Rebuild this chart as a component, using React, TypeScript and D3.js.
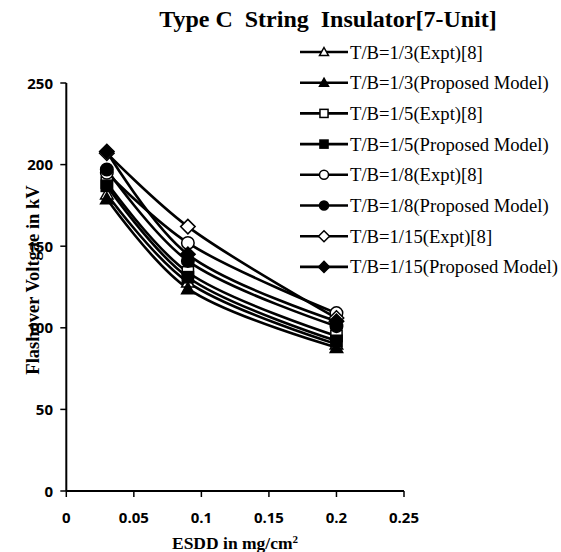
import React from "react";
import * as d3 from "d3";

const esdd = [0.03, 0.09, 0.2];
const seriesNames = [
  "T/B=1/3(Expt)[8]",
  "T/B=1/3(Proposed Model)",
  "T/B=1/5(Expt)[8]",
  "T/B=1/5(Proposed Model)",
  "T/B=1/8(Expt)[8]",
  "T/B=1/8(Proposed Model)",
  "T/B=1/15(Expt)[8]",
  "T/B=1/15(Proposed Model)",
];
const tb3Expt = [182, 128, 90];
const tb3Model = [179, 124, 88];
const tb5Expt = [189, 134, 95];
const tb5Model = [187, 131, 92];
const tb8Expt = [195, 152, 109];
const tb8Model = [197, 141, 101];
const tb15Expt = [207, 162, 106];
const tb15Model = [208, 145, 104];
const seriesValues = [tb3Expt, tb3Model, tb5Expt, tb5Model, tb8Expt, tb8Model, tb15Expt, tb15Model];
const markerShapes = ["triangle", "triangle", "square", "square", "circle", "circle", "diamond", "diamond"];
const markerFilled = [false, true, false, true, false, true, false, true];
const xTicks = [0, 0.05, 0.1, 0.15, 0.2, 0.25];
const xTickLabels = ["0", "0.05", "0.1", "0.15", "0.2", "0.25"];
const yTicks = [0, 50, 100, 150, 200, 250];

const W = 561;
const H = 552;
const x = d3.scaleLinear().domain([0, 0.25]).range([66.3, 404]);
const y = d3.scaleLinear().domain([0, 250]).range([491, 83]);

const SERIF = "'Liberation Serif', 'Times New Roman', serif";
const SANS = "'Open Sans', 'Liberation Sans', sans-serif";

function Marker({ shape, filled, cx, cy, size }: any) {
  const fill = filled ? "#000" : "#fff";
  const sw = 1.5;
  if (shape === "circle") {
    return <circle cx={cx} cy={cy} r={size / 2} fill={fill} stroke="#000" strokeWidth={sw} />;
  }
  if (shape === "square") {
    const s = size * 0.9;
    return <rect x={cx - s / 2} y={cy - s / 2} width={s} height={s} fill={fill} stroke="#000" strokeWidth={sw} />;
  }
  if (shape === "diamond") {
    const r = size / 2 + 1;
    return (
      <path
        d={`M${cx},${cy - r}L${cx + r},${cy}L${cx},${cy + r}L${cx - r},${cy}Z`}
        fill={fill}
        stroke="#000"
        strokeWidth={sw}
      />
    );
  }
  const r = size / 2;
  return (
    <path
      d={`M${cx},${cy - r}L${cx + r},${cy + r * 0.8}L${cx - r},${cy + r * 0.8}Z`}
      fill={fill}
      stroke="#000"
      strokeWidth={sw}
    />
  );
}

export default function App() {
  const line = d3
    .line<[number, number]>()
    .x((d) => x(d[0]))
    .y((d) => y(d[1]))
    .curve(d3.curveCatmullRom.alpha(0.5));

  const legendX0 = 300;
  const legendY0 = 52;
  const legendDy = 30.7;

  return (
    <svg width={W} height={H} style={{ position: "absolute", left: 0, top: 0, background: "#fff" }}>
      <rect x={0} y={0} width={W} height={H} fill="#fff" />
      <text
        x={328}
        y={27}
        textAnchor="middle"
        fontFamily={SERIF}
        fontWeight="bold"
        fontSize={24}
        style={{ whiteSpace: "pre" }}
      >
        {"Type C  String  Insulator[7-Unit]"}
      </text>

      {/* series lines */}
      {seriesValues.map((vals, i) => (
        <path
          key={"l" + i}
          d={line(esdd.map((e, j) => [e, vals[j]] as [number, number])) || ""}
          fill="none"
          stroke="#000"
          strokeWidth={2.6}
        />
      ))}
      {/* markers */}
      {seriesValues.map((vals, i) =>
        esdd.map((e, j) => (
          <Marker
            key={"m" + i + "-" + j}
            shape={markerShapes[i]}
            filled={markerFilled[i]}
            cx={x(e)}
            cy={y(vals[j])}
            size={12.5}
          />
        ))
      )}

      {/* axes */}
      <line x1={x(0)} x2={x(0)} y1={y(0)} y2={y(250)} stroke="#000" strokeWidth={2} />
      <line x1={x(0)} x2={x(0.25)} y1={y(0)} y2={y(0)} stroke="#000" strokeWidth={2} />
      {yTicks.map((t) => (
        <g key={"yt" + t}>
          <line x1={x(0) - 6} x2={x(0)} y1={y(t)} y2={y(t)} stroke="#000" strokeWidth={1.5} />
          <text
            x={53}
            y={y(t) + 5.5}
            textAnchor="end"
            fontFamily={SANS}
            fontWeight="bold"
            fontSize={15}
          >
            {t}
          </text>
        </g>
      ))}
      {xTicks.map((t, i) => (
        <g key={"xt" + t}>
          <line x1={x(t)} x2={x(t)} y1={y(0)} y2={y(0) + 6} stroke="#000" strokeWidth={1.5} />
          <text
            x={x(t)}
            y={523}
            textAnchor="middle"
            fontFamily={SANS}
            fontWeight="bold"
            fontSize={15}
          >
            {xTickLabels[i]}
          </text>
        </g>
      ))}
      <text x={235} y={549} textAnchor="middle" fontFamily={SERIF} fontWeight="bold" fontSize={17.5}>
        ESDD in mg/cm
        <tspan dy={-6} fontSize={11}>2</tspan>
      </text>
      <text
        transform={`translate(39,${280}) rotate(-90)`}
        textAnchor="middle"
        fontFamily={SERIF}
        fontWeight="bold"
        fontSize={18.5}
      >
        Flashover Voltgae in kV
      </text>

      {/* legend */}
      {seriesNames.map((name, i) => {
        const ly = legendY0 + i * legendDy;
        return (
          <g key={"lg" + i}>
            <line x1={legendX0} x2={legendX0 + 48} y1={ly} y2={ly} stroke="#000" strokeWidth={2.6} />
            <Marker shape={markerShapes[i]} filled={markerFilled[i]} cx={legendX0 + 24} cy={ly} size={9} />
            <text x={legendX0 + 50} y={ly + 6.5} fontFamily={SERIF} fontSize={18.67}>
              {name}
            </text>
          </g>
        );
      })}
    </svg>
  );
}
